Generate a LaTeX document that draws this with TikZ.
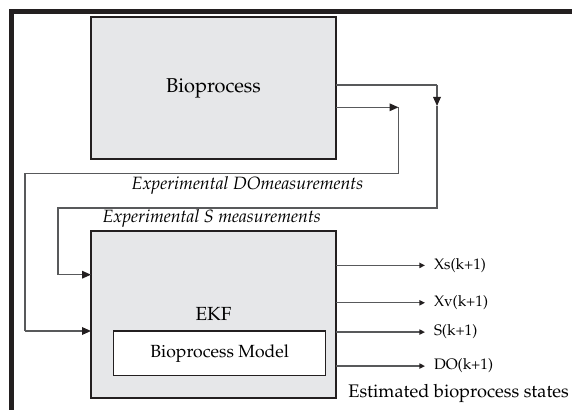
\documentclass[tikz,border=0pt]{standalone}
\usepackage[T1]{fontenc}
\usepackage{mathpazo}
\usetikzlibrary{arrows.meta}
\definecolor{boxgray}{HTML}{E6E7E9}
\definecolor{linegray}{HTML}{58595B}
\definecolor{framedark}{HTML}{231F20}

\begin{document}
\begin{tikzpicture}[x=0.5pt,y=-0.5pt]

\tikzset{Block/.style={draw=framedark, line width=1pt, fill=boxgray, inner sep=0pt, outer sep=0pt},
  Wire/.style={draw=linegray, line width=0.7pt},
  Arr/.style={-{Triangle[length=4.5pt,width=3.8pt,color=framedark]}},
  OutArr/.style={-{Triangle[length=2.8pt,width=2.6pt,color=framedark]}},
  Out/.style={anchor=base west, inner xsep=4.5pt, inner ysep=0pt, outer sep=0pt, font=\fontsize{7.6}{9}\selectfont},
  Meas/.style={anchor=base, inner sep=0pt, font=\fontsize{8.9}{10}\selectfont\itshape}}

\useasboundingbox (0,0) rectangle (572,410);
\draw[line width=2.35pt, draw=framedark] (11.7,410) -- (11.7,11.7) -- (572,11.7);

\node[Block, minimum width=122.5pt, minimum height=71pt, font=\fontsize{10}{12}\selectfont] (P_1) at (213.5,88) {Bioprocess};
\node[Block, minimum width=122.5pt, minimum height=83.3pt, font=\fontsize{9.5}{11}\selectfont] (E_1) at (213.5,314.4) {EKF};
\node[Block, fill=white, line width=0.6pt, minimum width=106pt, minimum height=22.3pt, font=\fontsize{8.8}{10}\selectfont] (E_2) at (219.7,353.3) {Bioprocess Model};

\coordinate (C_1) at (437,85);
\coordinate (C_2) at (437,106);
\coordinate (C_3) at (398.5,107.3);

\draw[Wire] (P_1.east |- C_1) -- (C_1);
\draw[Wire, Arr] (C_1) -- (C_2);
\draw[Wire] (C_2) |- (58,208) |- ([yshift=19.85pt]E_1.west);
\draw[Wire, Arr] (58,274.7) -- ([yshift=19.85pt]E_1.west);
\draw[Wire, Arr] (P_1.east |- C_3) -- (C_3);
\draw[Wire] (C_3) |- (25,173.7) -- (25,331);
\draw[Wire, Arr] (25,331) -- ([yshift=-8.3pt]E_1.west);

\node[Meas] (L_1) at (247.5,190) {Experimental DOmeasurements};
\node[Meas] (L_2) at (211.7,223) {Experimental S measurements};

\node[Out] (O_1) at (425,269.3) {Xs(k+1)};
\node[Out] (O_2) at (425,306.7) {Xv(k+1)};
\node[Out] (O_3) at (425,336) {S(k+1)};
\node[Out] (O_4) at (425,370) {DO(k+1)};
\foreach \i in {1,...,4}
  \draw[Wire, OutArr] (E_1.east |- O_\i.west) -- (O_\i.west);

\node[anchor=base west, inner sep=0pt, font=\fontsize{9.1}{11}\selectfont] (L_3) at (348,398) {Estimated bioprocess states};

\end{tikzpicture}
\end{document}
